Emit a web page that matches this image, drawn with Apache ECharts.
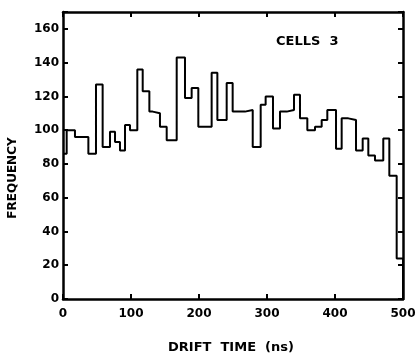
<!DOCTYPE html>
<html>
<head>
<meta charset="utf-8">
<script src="https://cdn.jsdelivr.net/npm/echarts@6/dist/echarts.min.js"></script>
<style>
  html, body { margin: 0; padding: 0; background: #fff; }
  #chart { width: 420px; height: 358px; }
</style>
</head>
<body>
<div id="chart"></div>
<script>
// Bin left edges (ns) and frequencies
var binEdges = [0, 5.4, 17.6, 37.3, 48.5, 58.3, 69.1, 76.5, 83.8, 91.2, 98.5, 109.3, 117.2, 127, 131.9,
  142.6, 152.5, 167.2, 179.4, 189.2, 199, 218.6, 227, 240.7, 249.5, 267.6, 279, 290.7, 298, 308.8,
  319.1, 329, 339.7, 348.5, 359.3, 370.6, 380.4, 388.7, 401.5, 409.8, 419.6, 430.9, 440.7, 449,
  458.8, 471, 479.9, 490.7];
var frequency = [86, 100, 96, 86, 127, 90, 99, 93, 88, 103, 100, 136, 123, 111, 110,
  102, 94, 143, 119, 125, 102, 134, 106, 128, 111, 112, 90, 115, 120, 101,
  111, 112, 121, 107, 100, 102, 106, 112, 89, 107, 106, 88, 95, 85,
  82, 95, 73, 24];
var xEnd = 500;
var xTicks = [0, 100, 200, 300, 400, 500];
var yTicks = [0, 20, 40, 60, 80, 100, 120, 140, 160];

var stepData = binEdges.map(function (e, i) { return [e, frequency[i]]; });
stepData.push([xEnd, frequency[frequency.length - 1]]);
stepData.push([xEnd, 0]);

var chart = echarts.init(document.getElementById('chart'), null, { renderer: 'canvas' });
var labelFont = { color: '#000', fontFamily: 'DejaVu Sans', fontWeight: 'bold', fontSize: 12 };
var axisLine = { show: true, onZero: false, lineStyle: { color: '#000', width: 2.5 } };
var tick = { show: true, inside: true, length: 5, lineStyle: { color: '#000', width: 2 } };

chart.setOption({
  animation: false,
  backgroundColor: '#fff',
  grid: { left: 63, right: 17, top: 12, bottom: 59, show: false },
  xAxis: [
    { type: 'value', position: 'bottom', min: 0, max: 500, interval: 100,
      axisLine: axisLine, axisTick: tick, splitLine: { show: false },
      axisLabel: Object.assign({ margin: 9, formatter: function (v) { return xTicks.indexOf(v) >= 0 ? String(v) : ''; } }, labelFont) },
    { type: 'value', position: 'top', min: 0, max: 500, interval: 100,
      axisLine: axisLine, axisTick: tick, splitLine: { show: false }, axisLabel: { show: false } }
  ],
  yAxis: [
    { type: 'value', position: 'left', min: 0, max: 170, interval: 20,
      axisLine: axisLine, axisTick: tick, splitLine: { show: false },
      axisLabel: Object.assign({ margin: 4, formatter: function (v) { return yTicks.indexOf(v) >= 0 ? String(v) : ''; } }, labelFont) },
    { type: 'value', position: 'right', min: 0, max: 170, interval: 20,
      axisLine: axisLine, axisTick: tick, splitLine: { show: false }, axisLabel: { show: false } }
  ],
  series: [{
    type: 'line',
    step: 'end',
    data: stepData,
    showSymbol: false,
    symbol: 'none',
    lineStyle: { color: '#000', width: 2 },
    z: 3
  }],
  graphic: [
    { type: 'text', x: 13, y: 178, rotation: Math.PI / 2,
      style: { text: 'FREQUENCY', align: 'center', verticalAlign: 'middle', fill: '#000',
        font: 'bold 12px "DejaVu Sans"' } },
    { type: 'text', x: 231, y: 348,
      style: { text: 'DRIFT  TIME  (ns)', align: 'center', verticalAlign: 'middle', fill: '#000',
        font: 'bold 13px "DejaVu Sans"' } },
    { type: 'text', x: 276, y: 42,
      style: { text: 'CELLS  3', align: 'left', verticalAlign: 'middle', fill: '#000',
        font: 'bold 13px "DejaVu Sans"' } }
  ]
});
</script>
</body>
</html>
